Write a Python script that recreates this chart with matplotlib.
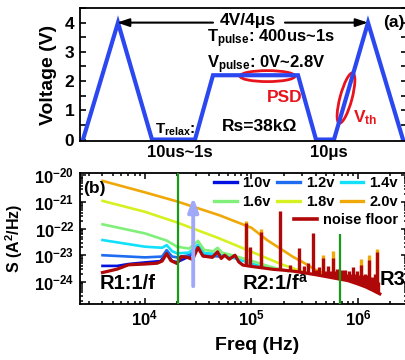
import numpy as np
import matplotlib.pyplot as plt
from matplotlib.patches import Ellipse
from matplotlib.transforms import ScaledTranslation
from matplotlib.ticker import MultipleLocator, LogLocator, NullFormatter

plt.rcParams['font.family'] = ['Liberation Sans', 'DejaVu Sans']
plt.rcParams['font.weight'] = 'bold'
plt.rcParams['mathtext.fontset'] = 'custom'
plt.rcParams['mathtext.rm'] = 'Liberation Sans:bold'
plt.rcParams['mathtext.bf'] = 'Liberation Sans:bold'
plt.rcParams['mathtext.it'] = 'Liberation Sans:bold'
plt.rcParams['mathtext.default'] = 'bf'
plt.rcParams['axes.linewidth'] = 1.3

# ---- (a) pulse scheme, time in arbitrary units ----
pulse_t = [3, 38, 72, 115, 133, 218, 236, 254, 288, 323]
pulse_v = [0, 4, 0, 0, 2.2, 2.2, 0, 0, 4, 0]

# ---- (b) PSD curves, S given as log10(A^2/Hz) ----
f_2v0 = [4.0e3, 1.0e4, 2.0e4, 5.0e4, 1.0e5, 1.4e5, 2.0e5, 2.45e5, 3.0e5, 4.0e5, 5.8e5]
s_2v0 = [-20.21, -20.64, -20.98, -21.50, -21.97, -22.43, -22.83, -23.06, -23.25, -23.55, -23.82]

f_1v8 = [4.0e3, 1.0e4, 2.0e4, 5.0e4, 1.0e5, 2.0e5, 3.3e5]
s_1v8 = [-20.96, -21.37, -21.77, -22.37, -22.87, -23.37, -23.66]

f_1v6 = [4.0e3, 1.0e4, 1.6e4, 2.0e4, 2.6e4, 3.15e4, 3.6e4, 4.4e4, 4.8e4, 5.3e4, 7.0e4, 1.0e5, 1.5e5, 2.2e5]
s_1v6 = [-21.84, -22.18, -22.45, -22.68, -22.75, -22.46, -22.80, -22.85, -22.72, -22.90, -23.03, -23.21, -23.43, -23.60]

f_1v4 = [4.0e3, 1.0e4, 1.45e4, 1.6e4, 1.8e4, 2.0e4, 2.6e4, 3.15e4, 3.6e4, 4.8e4, 7.0e4, 1.0e5, 1.3e5]
s_1v4 = [-22.43, -22.68, -22.72, -22.62, -22.85, -22.93, -22.90, -22.60, -22.92, -22.95, -23.12, -23.31, -23.45]

f_1v2 = [4.0e3, 1.0e4, 1.45e4, 1.6e4, 1.8e4, 2.0e4, 2.6e4, 3.15e4, 3.6e4, 5.0e4]
s_1v2 = [-23.00, -23.08, -23.05, -22.81, -23.05, -23.08, -23.00, -22.68, -23.00, -23.05]

f_1v0 = [4.0e3, 5.5e3, 7.0e3, 1.0e4, 1.4e4, 1.6e4, 1.8e4, 2.0e4, 2.6e4, 3.15e4, 3.6e4]
s_1v0 = [-23.40, -23.40, -23.33, -23.27, -23.22, -22.92, -23.22, -23.26, -23.05, -22.72, -23.03]

f_floor = [4.0e3, 5.5e3, 7.0e3, 1.0e4, 1.3e4, 1.45e4, 1.6e4, 1.75e4, 2.0e4, 2.2e4, 2.5e4,
           2.8e4, 3.15e4, 3.5e4, 4.3e4, 4.8e4, 5.2e4, 5.6e4, 6.2e4, 7.0e4, 7.6e4, 8.3e4,
           1.0e5, 1.3e5, 1.6e5, 2.0e5, 2.5e5, 3.0e5, 4.0e5, 5.0e5, 6.0e5, 8.0e5, 1.0e6,
           1.2e6, 1.4e6, 1.6e6]
s_floor = [-23.65, -23.52, -23.36, -23.33, -23.30, -23.22, -22.94, -23.20, -23.31, -23.05, -23.08,
           -23.16, -22.71, -23.03, -23.08, -22.87, -23.12, -23.00, -23.15, -23.00, -23.25, -23.37,
           -23.42, -23.48, -23.53, -23.56, -23.60, -23.65, -23.73, -23.80, -23.86, -23.95, -24.08,
           -24.20, -24.33, -24.45]

# interference spikes riding on the noise floor
spike_f = [8.8e4, 9.7e4, 1.22e5, 1.86e5, 2.3e5, 2.82e5, 3.1e5, 3.4e5, 3.76e5, 4.0e5,
           4.3e5, 4.66e5, 4.9e5, 5.2e5, 5.5e5, 5.8e5, 6.1e5, 6.4e5, 6.8e5, 7.1e5,
           7.5e5, 7.8e5, 8.2e5, 8.6e5, 9.0e5, 9.4e5, 9.8e5, 1.02e6, 1.07e6, 1.11e6,
           1.15e6, 1.19e6, 1.23e6, 1.28e6, 1.32e6, 1.36e6, 1.4e6, 1.45e6, 1.5e6, 1.55e6]
spike_top = [-21.80, -22.70, -22.12, -21.34, -23.35, -22.71, -23.40, -23.30, -22.18, -23.55,
             -23.45, -23.12, -23.60, -23.40, -23.60, -23.12, -23.60, -23.50, -23.65, -23.55,
             -23.56, -23.70, -23.60, -23.70, -23.43, -23.70, -23.60, -23.75, -23.37, -23.75,
             -23.70, -23.80, -23.75, -23.18, -23.85, -23.80, -23.90, -23.70, -22.87, -24.00]
spike_base = [-23.38, -23.41, -23.47, -23.55, -23.58, -23.63, -23.65, -23.68, -23.70, -23.73,
              -23.75, -23.77, -23.79, -23.81, -23.82, -23.84, -23.86, -23.87, -23.89, -23.90,
              -23.92, -23.93, -23.95, -23.98, -24.00, -24.03, -24.06, -24.09, -24.12, -24.15,
              -24.17, -24.19, -24.22, -24.26, -24.29, -24.31, -24.34, -24.37, -24.40, -24.42]
# spike tips of the upper curves peeking above the floor spikes
tip_f = [8.8e4, 1.22e5, 4.66e5, 5.8e5, 1.07e6, 1.28e6, 1.5e6]
tip_top = [-21.70, -22.00, -23.00, -22.85, -23.15, -23.00, -22.75]
tip_base = [-23.38, -23.47, -23.77, -23.84, -24.12, -24.26, -24.40]

boundary_f = [2.05e4, 6.7e5]
boundary_top = [-19.9, -22.21]

fig = plt.figure(figsize=(4.05, 3.6), dpi=100)
ax1 = fig.add_axes([80 / 405, 1 - 141 / 360, 327 / 405, 133 / 360])
ax2 = fig.add_axes([80 / 405, 1 - 304 / 360, 327 / 405, 131 / 360])

# ---------------- panel (a) ----------------
ax1.plot(pulse_t, pulse_v, color='#2b48f0', lw=3, solid_joinstyle='miter')
ax1.set_xlim(0, 327)
ax1.set_ylim(-0.05, 4.5)
ax1.set_xticks([])
ax1.yaxis.set_major_locator(MultipleLocator(1))
ax1.yaxis.set_minor_locator(MultipleLocator(0.5))
ax1.tick_params(axis='y', which='both', direction='in', right=True, labelsize=12.5,
                length=4, width=1.2, pad=4)
ax1.set_ylabel('Voltage (V)', fontsize=14, fontweight='bold')
ax1.yaxis.set_label_coords(-0.07, 0.5)

arrow = dict(arrowstyle='-|>,head_length=0.6,head_width=0.2', color='black', lw=1.5,
             mutation_scale=12, shrinkA=0, shrinkB=0)
ax1.annotate('', xy=(37, 4.0), xytext=(133, 4.0), arrowprops=arrow)
ax1.annotate('', xy=(288, 4.0), xytext=(205, 4.0), arrowprops=arrow)
ax1.text(168, 4.06, '4V/4\u03bcs', fontsize=12.5, ha='center', va='center')
ax1.text(303, 4.0, '(a)', fontsize=12.5, ha='left', va='center')
ax1.text(127, 3.31, r'$T_{pulse}$: 400us~1s', fontsize=12, ha='left', va='baseline')
ax1.text(127, 2.45, r'$V_{pulse}$: 0V~2.8V', fontsize=12, ha='left', va='baseline')
ax1.text(187, 1.28, 'PSD', fontsize=12.5, color='#e8141c', ha='left', va='baseline')
ax1.text(273, 0.59, r'$V_{th}$', fontsize=12.5, color='#e8141c', ha='left', va='baseline')
ax1.text(75, 0.21, r'$T_{relax}$:', fontsize=11, ha='left', va='baseline')
ax1.text(142, 0.28, 'Rs=38k\u03a9', fontsize=12.5, ha='left', va='baseline')
ax1.text(67, -0.61, '10us~1s', fontsize=12, ha='left', va='baseline')
ax1.text(230, -0.61, '10\u03bcs', fontsize=12, ha='left', va='baseline')

# highlight ellipses, sized in inches around a data point
for (cx, cy), w, h, ang in [((187.5, 2.17), 0.55, 0.11, 0), ((266, 1.42), 0.52, 0.12, 75)]:
    tr = fig.dpi_scale_trans + ScaledTranslation(cx, cy, ax1.transData)
    ax1.add_patch(Ellipse((0, 0), w, h, angle=ang, transform=tr, fill=False,
                          edgecolor='#e8141c', lw=2, clip_on=False))

# ---------------- panel (b) ----------------
curves = [
    (f_1v0, s_1v0, '#0010e0', '1.0v'),
    (f_1v2, s_1v2, '#1e6cf0', '1.2v'),
    (f_1v4, s_1v4, '#10e0fa', '1.4v'),
    (f_1v6, s_1v6, '#80f07a', '1.6v'),
    (f_1v8, s_1v8, '#d6f020', '1.8v'),
    (f_2v0, s_2v0, '#f0a808', '2.0v'),
]
handles = {}
for f, s, c, lab in curves:
    handles[lab], = ax2.plot(f, 10 ** np.array(s), color=c, lw=1.9)

ax2.vlines(tip_f, 10 ** np.array(tip_base), 10 ** np.array(tip_top), color='#f0a808', lw=2.4)
ax2.vlines(spike_f, 10 ** np.array(spike_base), 10 ** np.array(spike_top), color='#b00808', lw=2.4)
h_floor, = ax2.plot(f_floor, 10 ** np.array(s_floor), color='#b00808', lw=2.3)

ax2.set_xscale('log')
ax2.set_yscale('log')
ax2.set_xlim(2460, 2.88e6)
ax2.set_ylim(10 ** -24.83, 10 ** -19.914)

ax2.vlines(boundary_f, 10 ** -24.83, 10 ** np.array(boundary_top), color='#189a18', lw=1.6, zorder=4)
ax2.annotate('', xy=(2.84e4, 10 ** -20.82), xytext=(2.84e4, 10 ** -24.16),
             arrowprops=dict(arrowstyle='-|>,head_length=0.55,head_width=0.2', color='#a0a8f8',
                             lw=2.8, mutation_scale=15, shrinkA=0, shrinkB=0), zorder=5)

ax2.xaxis.set_major_locator(LogLocator(base=10, numticks=10))
ax2.yaxis.set_major_locator(LogLocator(base=10, numticks=10))
ax2.xaxis.set_minor_locator(LogLocator(base=10, subs=np.arange(2, 10), numticks=20))
ax2.yaxis.set_minor_locator(LogLocator(base=10, subs=np.arange(2, 10), numticks=20))
ax2.xaxis.set_minor_formatter(NullFormatter())
ax2.yaxis.set_minor_formatter(NullFormatter())
ax2.tick_params(which='both', direction='in', top=True, right=True, width=1.1)
ax2.tick_params(which='major', length=4.5, labelsize=12)
ax2.tick_params(which='minor', length=2.2)
ax2.tick_params(axis='x', pad=3)
ax2.tick_params(axis='y', pad=4)

ax2.set_xlabel('Freq (Hz)', fontsize=14, fontweight='bold')
ax2.xaxis.set_label_coords(0.541, -0.25)
ax2.set_ylabel(r'S (A$^2$/Hz)', fontsize=11.5, fontweight='bold')
ax2.yaxis.set_label_coords(-0.168, 0.5)

ax2.text(0.009, 0.883, '(b)', transform=ax2.transAxes, fontsize=12.5, va='center')
ax2.text(0.061, 0.111, 'R1:1/f', transform=ax2.transAxes, fontsize=14.5, va='baseline')
ax2.text(0.495, 0.111, r'R2:1/f$^{a}$', transform=ax2.transAxes, fontsize=14.5, va='baseline')
ax2.text(0.917, 0.145, 'R3', transform=ax2.transAxes, fontsize=14.5, va='baseline')

# legend laid out row-wise: 3 columns of voltages, noise floor on its own row
order = ['1.0v', '1.6v', '1.2v', '1.8v', '1.4v', '2.0v']
leg_kw = dict(loc='upper right', frameon=False, fontsize=10.5, handlelength=1.55,
              handletextpad=0.4, columnspacing=0.45, labelspacing=0.3,
              borderpad=0, borderaxespad=0)
leg1 = ax2.legend([handles[k] for k in order], order, ncol=3, bbox_to_anchor=(0.972, 0.975), **leg_kw)
for ln in leg1.get_lines():
    ln.set_linewidth(2.4)
ax2.add_artist(leg1)
leg2 = ax2.legend([h_floor], ['noise floor'], bbox_to_anchor=(0.972, 0.697), **leg_kw)
for ln in leg2.get_lines():
    ln.set_linewidth(2.6)

fig.savefig('out.png', dpi=100)
